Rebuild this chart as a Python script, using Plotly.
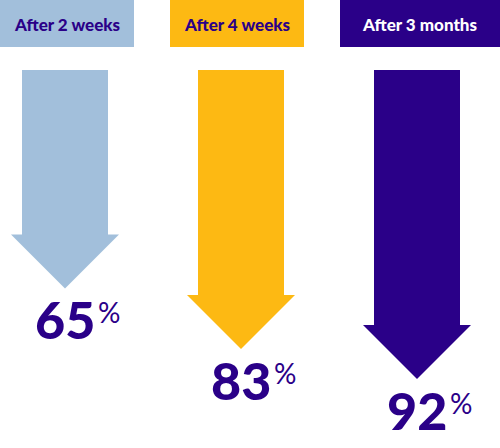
import plotly.graph_objects as go

# data
periods = ["After 2 weeks", "After 4 weeks", "After 3 months"]
shares = [65, 83, 92]

# styling
fills = ["#a2bfdb", "#fdb913", "#2a0088"]
head_ink = ["#2a0088", "#2a0088", "#ffffff"]
ink = "#2a0088"

W, H = 500, 448
PX_X = 176.0             # pixels per category step
X0 = -65 / PX_X          # first arrow centred 65px from the left
PX_Y = 3.36              # pixels per percentage point
Y0 = -70 / PX_Y          # arrows start 70px below the top

shaft = 43 / PX_X
head = 54 / PX_X
head_len = 54 / PX_Y

# header boxes, in pixels
hdr_left = [0, 170, 340]
hdr_right = [134, 304, 500]
hdr_bottom = 47


def px_to_x(px):
    return X0 + px / PX_X


fig = go.Figure()

for i, (v, c) in enumerate(zip(shares, fills)):
    hy = v - head_len
    xs = [i - shaft, i + shaft, i + shaft, i + head, i, i - head, i - shaft, i - shaft]
    ys = [0, 0, hy, hy, v, hy, hy, 0]
    fig.add_trace(go.Scatter(
        x=xs, y=ys, mode="lines", fill="toself", fillcolor=c,
        line=dict(color=c, width=0), hoverinfo="skip", showlegend=False,
    ))

    fig.add_annotation(
        x=i, y=v - 2 / PX_Y, xref="x", yref="y", text=str(v),
        showarrow=False, xanchor="center", yanchor="top",
        font=dict(family="Lato", size=52, color=ink, weight=900),
    )
    fig.add_annotation(
        x=i + 31 / PX_X, y=v + 5 / PX_Y, xref="x", yref="y", text="%",
        showarrow=False, xanchor="left", yanchor="top",
        font=dict(family="Lato", size=28, color=ink),
    )

for i, p in enumerate(periods):
    fig.add_shape(
        type="rect", xref="x", yref="paper",
        x0=px_to_x(hdr_left[i]), x1=px_to_x(hdr_right[i]),
        y0=1 - hdr_bottom / H, y1=1,
        fillcolor=fills[i], line=dict(width=0), layer="below",
    )
    fig.add_annotation(
        x=px_to_x((hdr_left[i] + hdr_right[i]) / 2), y=1 - 24 / H,
        xref="x", yref="paper", text=p, showarrow=False,
        xanchor="center", yanchor="middle",
        font=dict(family="Lato", size=17, color=head_ink[i], weight=900),
    )

fig.update_xaxes(range=[X0, X0 + W / PX_X], visible=False, fixedrange=True)
fig.update_yaxes(range=[Y0 + H / PX_Y, Y0], visible=False, fixedrange=True)
fig.update_layout(
    width=W, height=H, margin=dict(l=0, r=0, t=0, b=0),
    paper_bgcolor="white", plot_bgcolor="white",
)

fig.write_html(
    "out.html",
    config={"displayModeBar": False},
    post_script="document.body.style.margin='0';",
)
